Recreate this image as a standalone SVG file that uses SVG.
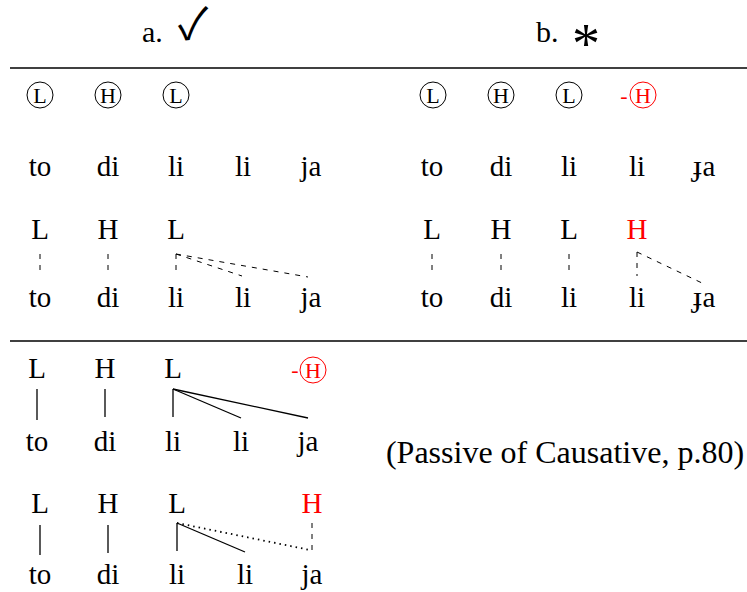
<svg xmlns="http://www.w3.org/2000/svg" width="747" height="592" viewBox="0 0 747 592">
<style>
text{font-family:"Liberation Serif","Times New Roman",serif;fill:#000}
.t{font-size:29px;text-anchor:middle}
.c{font-size:22px;text-anchor:middle}
.red{fill:#f00}
.circ{fill:none;stroke:#000;stroke-width:1}
.rc{fill:none;stroke:#f00;stroke-width:1}
.dash{stroke:#000;stroke-width:1;stroke-dasharray:5,6;fill:none}
.solid{stroke:#000;stroke-width:1.3;fill:none}
.dot{stroke:#000;stroke-width:1.8;stroke-dasharray:1.5,4;fill:none}
.rule{stroke:#000;stroke-width:1.5}
</style>
<rect width="747" height="592" fill="#fff"/>
<g id="header">
<text x="142" y="42" style="font-size:30px">a.</text>
<text x="193" y="39" style="font-family:'Noto Sans CJK JP','DejaVu Sans',sans-serif;font-size:44px;text-anchor:middle">✓</text>
<text x="536" y="42" style="font-size:30px">b.</text>
<text x="586" y="63" style="font-size:56px;text-anchor:middle">*</text>
</g>
<g id="rules">
<line class="rule" x1="10" y1="68" x2="747" y2="68"/>
<line class="rule" x1="10" y1="341" x2="747" y2="341"/>
</g>
<g id="a-underlying">
<circle class="circ" cx="40" cy="95" r="13"/><text class="c" x="40" y="102.5">L</text>
<circle class="circ" cx="108" cy="95" r="13"/><text class="c" x="108" y="102.5">H</text>
<circle class="circ" cx="176" cy="95" r="13"/><text class="c" x="176" y="102.5">L</text>
<text class="t" x="40" y="176">to</text>
<text class="t" x="108" y="176">di</text>
<text class="t" x="176" y="176">li</text>
<text class="t" x="243" y="176">li</text>
<text class="t" x="311" y="176">ja</text>
</g>
<g id="a-surface">
<text class="t" x="40" y="239">L</text>
<text class="t" x="108" y="239">H</text>
<text class="t" x="176" y="239">L</text>
<text class="t" x="40" y="307">to</text>
<text class="t" x="108" y="307">di</text>
<text class="t" x="176" y="307">li</text>
<text class="t" x="243" y="307">li</text>
<text class="t" x="311" y="307">ja</text>
</g>
<g id="b-underlying">
<circle class="circ" cx="433" cy="95" r="13"/><text class="c" x="433" y="102.5">L</text>
<circle class="circ" cx="501" cy="95" r="13"/><text class="c" x="501" y="102.5">H</text>
<circle class="circ" cx="569" cy="95" r="13"/><text class="c" x="569" y="102.5">L</text>
<text class="c red" x="624" y="102.5">-</text>
<circle class="rc" cx="643" cy="95" r="13"/><text class="c red" x="643" y="102.5">H</text>
<text class="t" x="432" y="176">to</text>
<text class="t" x="501" y="176">di</text>
<text class="t" x="569" y="176">li</text>
<text class="t" x="637" y="176">li</text>
<text class="t" x="704" y="176">ɟa</text>
</g>
<g id="b-surface">
<text class="t" x="432" y="239">L</text>
<text class="t" x="501" y="239">H</text>
<text class="t" x="569" y="239">L</text>
<text class="t red" x="637" y="239">H</text>
<text class="t" x="432" y="307">to</text>
<text class="t" x="501" y="307">di</text>
<text class="t" x="569" y="307">li</text>
<text class="t" x="637" y="307">li</text>
<text class="t" x="704" y="307">ɟa</text>
</g>
<g id="c-step1">
<text class="t" x="37" y="378">L</text>
<text class="t" x="105" y="378">H</text>
<text class="t" x="173" y="378">L</text>
<text class="c red" x="295" y="377">-</text>
<circle class="rc" cx="313" cy="370" r="13"/><text class="c red" x="313" y="377.5">H</text>
<text class="t" x="37" y="451">to</text>
<text class="t" x="105" y="451">di</text>
<text class="t" x="173" y="451">li</text>
<text class="t" x="241" y="451">li</text>
<text class="t" x="308" y="451">ja</text>
</g>
<g id="c-step2">
<text class="t" x="40" y="513">L</text>
<text class="t" x="108" y="513">H</text>
<text class="t" x="177" y="513">L</text>
<text class="t red" x="312" y="513">H</text>
<text class="t" x="40" y="584">to</text>
<text class="t" x="108" y="584">di</text>
<text class="t" x="177" y="584">li</text>
<text class="t" x="245" y="584">li</text>
<text class="t" x="312" y="584">ja</text>
</g>
<g id="note">
<text x="565" y="463" style="font-size:32px;text-anchor:middle">(Passive of Causative, p.80)</text>
</g>
<g id="connectors">
<line class="dash" x1="40" y1="254" x2="40" y2="276"/>
<line class="dash" x1="108" y1="254" x2="108" y2="276"/>
<line class="dash" x1="176" y1="254" x2="176" y2="276"/>
<line class="dash" x1="176" y1="254" x2="242" y2="276"/>
<line class="dash" x1="176" y1="254" x2="308" y2="277"/>
<line class="dash" x1="432" y1="254" x2="432" y2="276"/>
<line class="dash" x1="501" y1="254" x2="501" y2="276"/>
<line class="dash" x1="569" y1="254" x2="569" y2="276"/>
<line class="dash" x1="637" y1="252" x2="637" y2="276"/>
<line class="dash" x1="637" y1="252" x2="702" y2="283"/>
<line class="solid" x1="37" y1="389" x2="37" y2="420"/>
<line class="solid" x1="105" y1="389" x2="105" y2="417"/>
<line class="solid" x1="173" y1="389" x2="173" y2="417"/>
<line class="solid" x1="173" y1="389" x2="241" y2="418"/>
<line class="solid" x1="173" y1="389" x2="308" y2="418"/>
<line class="solid" x1="40" y1="525" x2="40" y2="555"/>
<line class="solid" x1="108" y1="525" x2="108" y2="553"/>
<line class="solid" x1="177" y1="523" x2="177" y2="551"/>
<line class="solid" x1="177" y1="523" x2="245" y2="552"/>
<line class="dot" x1="177" y1="523" x2="310" y2="550"/>
<line class="dash" x1="312" y1="523" x2="312" y2="550"/>
</g>
</svg>
